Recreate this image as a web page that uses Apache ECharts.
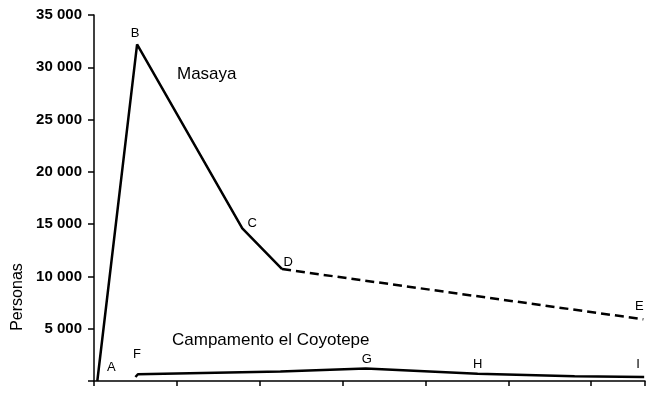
<!DOCTYPE html>
<html>
<head>
<meta charset="utf-8">
<script src="https://cdn.jsdelivr.net/npm/echarts@6/dist/echarts.min.js"></script>
<style>html,body{margin:0;padding:0;background:#fff}#c{width:652px;height:399px}</style>
</head>
<body>
<div id="c"></div>
<script>
// Masaya (solid part) points: [x, personas]
const masayaNames = ['A', 'B', 'C', 'D'];
const masayaX = [0.04, 0.52, 1.79, 2.27];
const masayaY = [0, 32200, 14600, 10700];
// Masaya (dashed part)
const masayaDashNames = ['', 'E'];
const masayaDashX = [2.27, 6.63];
const masayaDashY = [10700, 5900];
// Campamento el Coyotepe
const campNames = ['', 'F', '', 'G', 'H', '', 'I'];
const campX = [0.5, 0.53, 2.25, 3.28, 4.63, 5.8, 6.64];
const campY = [380, 650, 900, 1200, 700, 450, 380];
// y tick labels
const yTicks = [0, 5000, 10000, 15000, 20000, 25000, 30000, 35000];

const labelOffsets = {
  A: [14, -14], B: [-2, -11], C: [10, -5], D: [6, -7], E: [-4, -13],
  F: [-1, -20], G: [1, -9], H: [0, -9], I: [-6, -13]
};

function build(names, xs, ys) {
  return xs.map((x, i) => {
    const n = names[i];
    const item = { value: [x, ys[i]] };
    if (n) {
      item.label = { show: true, formatter: n, position: 'inside', offset: labelOffsets[n] };
    }
    return item;
  });
}

const chart = echarts.init(document.getElementById('c'));
const fam = '"Liberation Sans", Arial, sans-serif';
const baseSeries = {
  type: 'line',
  symbol: 'circle',
  symbolSize: 0.1,
  itemStyle: { color: 'rgba(0,0,0,0)' },
  label: { show: false, color: '#000', fontFamily: fam, fontSize: 13 },
  animation: false,
  silent: true
};
chart.setOption({
  animation: false,
  backgroundColor: '#fff',
  grid: { left: 94, right: 7, top: 15, bottom: 18 },
  xAxis: {
    type: 'value', min: 0, max: 6.65, interval: 1,
    axisLine: { show: true, lineStyle: { color: '#000', width: 1.5 } },
    axisTick: { show: true, length: 5, lineStyle: { color: '#000', width: 1.5 } },
    axisLabel: { show: false },
    splitLine: { show: false }
  },
  yAxis: {
    type: 'value', min: 0, max: 35000, interval: 5000,
    axisLine: { show: true, lineStyle: { color: '#000', width: 1.5 } },
    axisTick: { show: true, length: 6, lineStyle: { color: '#000', width: 1.5 } },
    axisLabel: {
      color: '#000', fontFamily: fam, fontSize: 15, fontWeight: 'bold', margin: 12,
      formatter: v => yTicks.indexOf(v) <= 0 ? '' : String(v).replace(/(\d+)(\d{3})$/, '$1 $2')
    },
    splitLine: { show: false }
  },
  graphic: [
    { type: 'text', left: 177, top: 66, style: { text: 'Masaya', fill: '#000', font: '17px ' + fam } },
    { type: 'text', left: 172, top: 332, style: { text: 'Campamento el Coyotepe', fill: '#000', font: '17px ' + fam } },
    { type: 'text', x: 18, y: 297, rotation: Math.PI / 2, style: { text: 'Personas', fill: '#000', font: '16px ' + fam, align: 'center', verticalAlign: 'middle' } }
  ],
  series: [
    Object.assign({}, baseSeries, { data: build(masayaNames, masayaX, masayaY), lineStyle: { color: '#000', width: 2.5 } }),
    Object.assign({}, baseSeries, { data: build(masayaDashNames, masayaDashX, masayaDashY), lineStyle: { color: '#000', width: 2.5, type: [9, 5] } }),
    Object.assign({}, baseSeries, { data: build(campNames, campX, campY), lineStyle: { color: '#000', width: 2.5 } })
  ]
});
</script>
</body>
</html>
